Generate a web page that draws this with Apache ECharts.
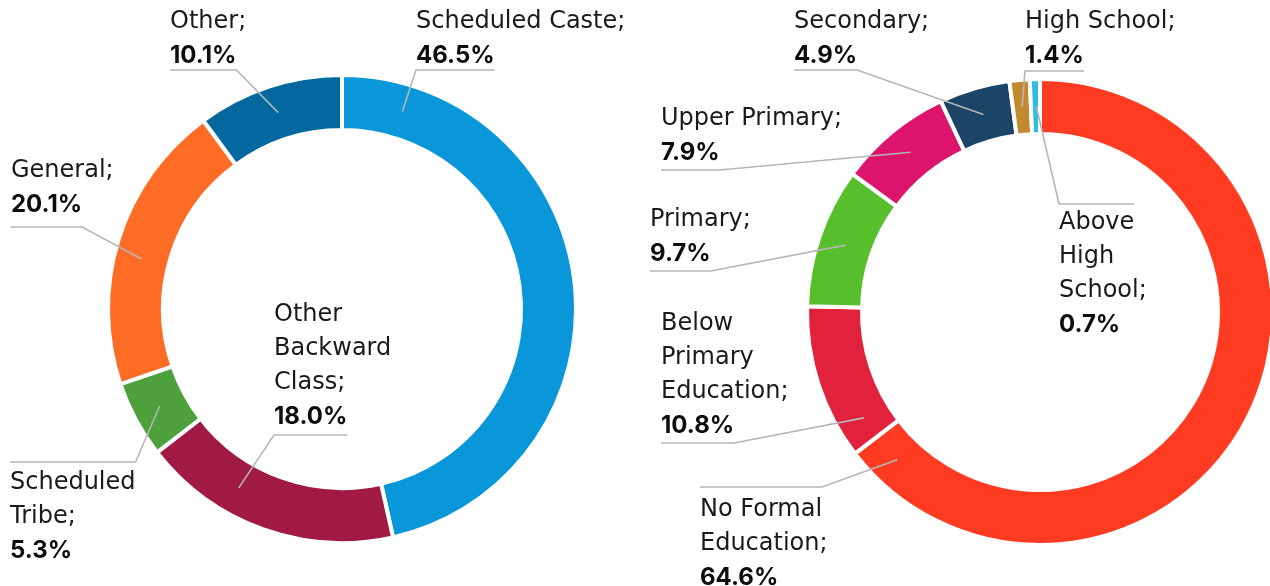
<!DOCTYPE html>
<html><head><meta charset="utf-8">
<script src="https://cdn.jsdelivr.net/npm/echarts@6/dist/echarts.min.js"></script>
<style>html,body{margin:0;padding:0;background:#fff}#c{width:1270px;height:586px}</style>
</head><body><div id="c"></div>
<script>
// ---- data ----
const casteCategories = ['Scheduled Caste', 'Other Backward Class', 'Scheduled Tribe', 'General', 'Other'];
const casteValues = [46.5, 18.0, 5.3, 20.1, 10.1];
const eduCategories = ['No Formal Education', 'Below Primary Education', 'Primary', 'Upper Primary', 'Secondary', 'High School', 'Above High School'];
const eduValues = [64.6, 10.8, 9.7, 7.9, 4.9, 1.4, 0.7];

// ---- style ----
const casteColors = ['#0A97D9', '#A01A43', '#4DA03B', '#FF6C26', '#03689E'];
const eduColors = ['#FF3C22', '#E2223C', '#57BF2C', '#DD146B', '#1B4466', '#C28A30', '#2BBDE5'];
const casteLabelText = [['Scheduled Caste;'], ['Other', 'Backward', 'Class;'], ['Scheduled', 'Tribe;'], ['General;'], ['Other;']];
const eduLabelText = [['No Formal', 'Education;'], ['Below', 'Primary', 'Education;'], ['Primary;'], ['Upper Primary;'], ['Secondary;'], ['High School;'], ['Above', 'High', 'School;']];
// label placement: x,y = top-left of text block; ly = leader underline y; bend = side where leader turns; ang = anchor angle on ring (deg clockwise from top)
const casteLabelPos = [
  {x: 416, y: 5, ly: 70, side: 'bottom', bend: 'left', ang: 17},
  {x: 274, y: 298, ly: 435, side: 'bottom', bend: 'left', ang: 210},
  {x: 10, y: 466, ly: 462, side: 'top', bend: 'right', ang: 242},
  {x: 11, y: 154, ly: 227, side: 'bottom', bend: 'right', ang: 284},
  {x: 170, y: 5, ly: 70, side: 'bottom', bend: 'right', ang: 342}
];
const eduLabelPos = [
  {x: 700, y: 493, ly: 487, side: 'top', bend: 'right', ang: 224},
  {x: 661, y: 307, ly: 443, side: 'bottom', bend: 'right', ang: 239},
  {x: 650, y: 203, ly: 271, side: 'bottom', bend: 'right', ang: 289},
  {x: 661, y: 102, ly: 170, side: 'bottom', bend: 'right', ang: 321},
  {x: 794, y: 5, ly: 70, side: 'bottom', bend: 'right', ang: 344},
  {x: 1025, y: 5, ly: 71, side: 'bottom', bend: 'left', ang: 355},
  {x: 1059, y: 206, ly: 204, side: 'top', bend: 'left', ang: 359}
];
const FONT_N = '"DejaVu Sans", Inter, sans-serif';
const FONT_V = 'Inter, "Open Sans", sans-serif';
const FS = 24, LH = 34;
const pies = [
  {center: [342, 309], r: [179, 234]},
  {center: [1040, 312], r: [178, 233]}
];

const mctx = document.createElement('canvas').getContext('2d');
function textW(t, bold) {
  mctx.font = bold ? ('700 ' + FS + 'px ' + FONT_V) : ('400 ' + FS + 'px ' + FONT_N);
  return mctx.measureText(t).width;
}
const fmtVal = v => v.toFixed(1) + '%';

function baseSeries(idx, cats, vals, colors) {
  const pc = pies[idx];
  return {
    type: 'pie', z: 2,
    center: pc.center, radius: pc.r,
    startAngle: 90, clockwise: true,
    animation: false, silent: true,
    emphasis: {disabled: true},
    itemStyle: {borderColor: '#fff', borderWidth: 4},
    label: {show: false}, labelLine: {show: false},
    data: cats.map((c, i) => ({name: c, value: vals[i], itemStyle: {color: colors[i]}}))
  };
}

// transparent overlay series on top carrying labels and leader lines
function labelSeries(idx, cats, vals, texts, pos) {
  const pc = pies[idx];
  const midR = (pc.r[0] + pc.r[1]) / 2;
  return {
    type: 'pie', z: 5,
    center: pc.center, radius: pc.r,
    startAngle: 90, clockwise: true,
    avoidLabelOverlap: false,
    animation: false, silent: true,
    emphasis: {disabled: true},
    itemStyle: {color: 'rgba(0,0,0,0)', borderWidth: 0},
    data: cats.map((c, i) => ({name: c, value: vals[i]})),
    label: {
      show: true,
      position: 'outside',
      formatter: p => texts[p.dataIndex].map(t => '{n|' + t + '}').join('\n') + '\n{v|' + fmtVal(p.value) + '}',
      rich: {
        n: {fontFamily: FONT_N, fontSize: FS, lineHeight: LH, color: '#1a1a1a', fontWeight: 400},
        v: {fontFamily: FONT_V, fontSize: FS, lineHeight: LH, color: '#0d0d0d', fontWeight: 700}
      }
    },
    labelLine: {show: true, smooth: false, lineStyle: {color: '#B4B6B8', width: 1.6}},
    labelLayout: function (params) {
      const i = params.dataIndex;
      const p = pos[i];
      const a = p.ang * Math.PI / 180;
      const ax = pc.center[0] + midR * Math.sin(a);
      const ay = pc.center[1] - midR * Math.cos(a);
      const w = p.side === 'bottom' ? textW(fmtVal(vals[i]), true) : textW(texts[i][0], false);
      const x0 = p.x, x1 = p.x + w;
      const bx = p.bend === 'left' ? x0 : x1;
      const ex = p.bend === 'left' ? x1 : x0;
      return {
        x: p.x, y: p.y, align: 'left', verticalAlign: 'top',
        labelLinePoints: [[ax, ay], [bx, p.ly], [ex, p.ly]]
      };
    }
  };
}

const chart = echarts.init(document.getElementById('c'), null, {renderer: 'canvas'});
chart.setOption({
  animation: false,
  backgroundColor: '#fff',
  series: [
    baseSeries(0, casteCategories, casteValues, casteColors),
    baseSeries(1, eduCategories, eduValues, eduColors),
    labelSeries(0, casteCategories, casteValues, casteLabelText, casteLabelPos),
    labelSeries(1, eduCategories, eduValues, eduLabelText, eduLabelPos)
  ]
});
</script></body></html>
